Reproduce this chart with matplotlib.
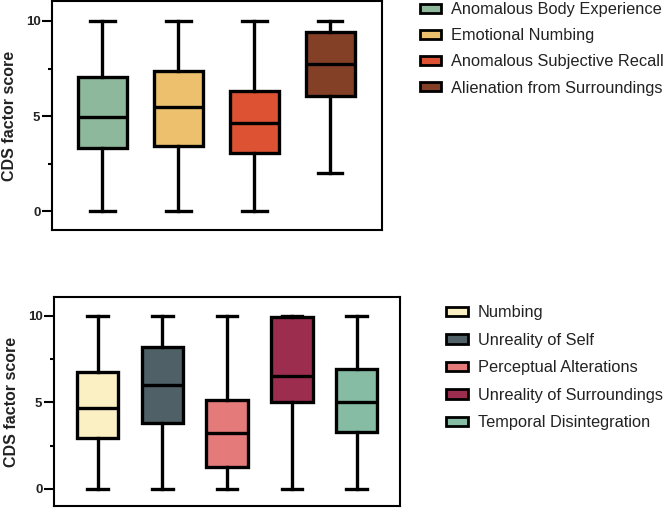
import matplotlib.pyplot as plt
from matplotlib.patches import Patch
from matplotlib.ticker import MultipleLocator

plt.rcParams['font.family'] = ['Liberation Sans', 'DejaVu Sans']

# top panel: CDS factors (four-factor model)
top_labels = ["Anomalous Body Experience", "Emotional Numbing",
              "Anomalous Subjective Recall", "Alienation from Surroundings"]
top_colors = ["#8db89c", "#ecc06c", "#dc5232", "#843f27"]
top_min = [0, 0, 0, 2]
top_q1 = [3.33, 3.42, 3.05, 6.07]
top_med = [4.95, 5.49, 4.61, 7.74]
top_q3 = [7.03, 7.38, 6.30, 9.42]
top_max = [10, 10, 10, 10]

# bottom panel: CDS factors (five-factor model)
bot_labels = ["Numbing", "Unreality of Self", "Perceptual Alterations",
              "Unreality of Surroundings", "Temporal Disintegration"]
bot_colors = ["#fbf0c4", "#4f6066", "#e57a7a", "#9c2d4e", "#86bca3"]
bot_min = [0, 0, 0, 0, 0]
bot_q1 = [2.92, 3.79, 1.29, 5.04, 3.31]
bot_med = [4.69, 6.02, 3.21, 6.52, 5.00]
bot_q3 = [6.73, 8.21, 5.12, 9.96, 6.92]
bot_max = [10, 10, 10, 10, 10]

fig = plt.figure(figsize=(6.69, 5.08), dpi=100)
ax1 = fig.add_axes([0.077, 0.547, 0.494, 0.451])
ax2 = fig.add_axes([0.080, 0.003, 0.518, 0.412])


def draw(ax, labels, colors, lo, q1, med, q3, hi, ylim, xlim):
    stats = []
    for i in range(len(labels)):
        stats.append(dict(whislo=lo[i], q1=q1[i], med=med[i], q3=q3[i],
                          whishi=hi[i], fliers=[], label=labels[i]))
    lw = 2.4
    bp = ax.bxp(stats, positions=range(1, len(labels) + 1), widths=0.64,
                patch_artist=True, showfliers=False,
                boxprops=dict(linewidth=lw, edgecolor="black"),
                whiskerprops=dict(linewidth=lw, color="black"),
                capprops=dict(linewidth=lw, color="black"),
                medianprops=dict(linewidth=lw, color="black"),
                capwidths=0.32)
    for patch, c in zip(bp["boxes"], colors):
        patch.set_facecolor(c)
    ax.set_xlim(*xlim)
    ax.set_ylim(*ylim)
    ax.set_xticks([])
    ax.yaxis.set_major_locator(MultipleLocator(5))
    ax.yaxis.set_minor_locator(MultipleLocator(2.5))
    ax.tick_params(axis="y", which="major", length=7, width=1.5, pad=1,
                   labelsize=9.5, labelcolor="#222222")
    ax.tick_params(axis="y", which="minor", length=3, width=1.5)
    for lab in ax.get_yticklabels():
        lab.set_fontweight("bold")
    for sp in ax.spines.values():
        sp.set_linewidth(1.5)
    ax.set_ylabel("CDS factor score", fontsize=11.5, fontweight="bold",
                  color="#222222", labelpad=6)
    handles = [Patch(facecolor=c, edgecolor="black", linewidth=2, label=l)
               for c, l in zip(colors, labels)]
    return handles


h1 = draw(ax1, top_labels, top_colors, top_min, top_q1, top_med, top_q3,
          top_max, (-1.0, 11.05), (0.33, 4.68))
h2 = draw(ax2, bot_labels, bot_colors, bot_min, bot_q1, bot_med, bot_q3,
          bot_max, (-1.02, 11.08), (0.32, 5.67))

fig.legend(handles=h1, loc="upper left", bbox_to_anchor=(0.615, 1.012),
           frameon=False, fontsize=11.8, borderpad=0, handlelength=1.3,
           handleheight=0.5, handletextpad=0.6, labelspacing=0.68,
           labelcolor="#222222")
fig.legend(handles=h2, loc="upper left", bbox_to_anchor=(0.655, 0.415),
           frameon=False, fontsize=11.8, borderpad=0, handlelength=1.3,
           handleheight=0.5, handletextpad=0.6, labelspacing=0.76,
           labelcolor="#222222")

fig.savefig("out.png", dpi=100)
